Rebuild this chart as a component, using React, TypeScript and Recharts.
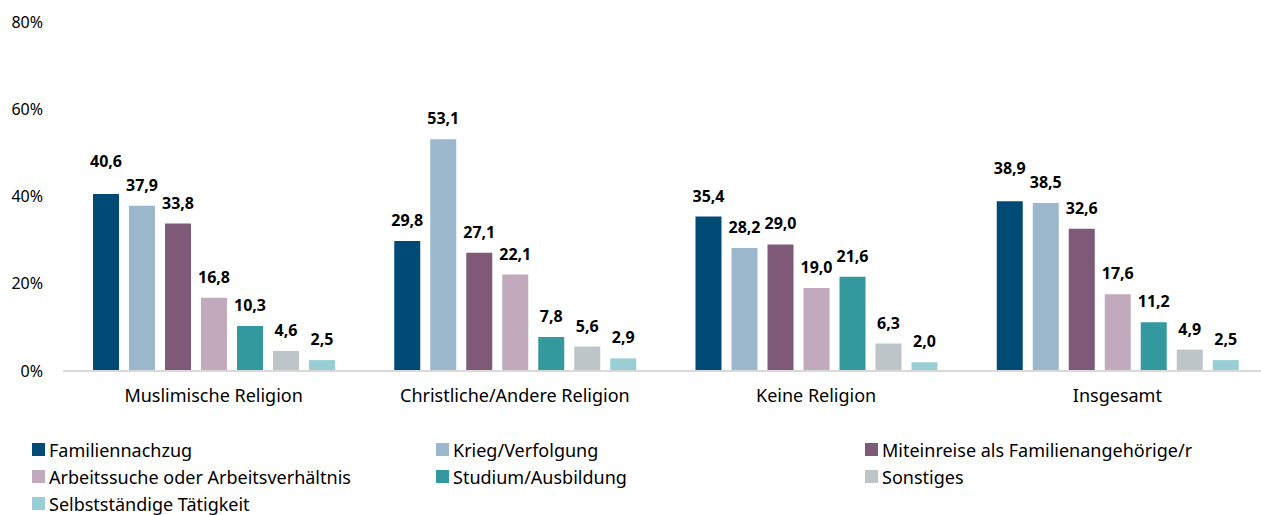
import { BarChart, Bar, XAxis, YAxis, Legend, LabelList } from "recharts";

const categories = [
  "Muslimische Religion",
  "Christliche/Andere Religion",
  "Keine Religion",
  "Insgesamt",
];

const familiennachzug = [40.6, 29.8, 35.4, 38.9];
const kriegVerfolgung = [37.9, 53.1, 28.2, 38.5];
const miteinreise = [33.8, 27.1, 29.0, 32.6];
const arbeitssuche = [16.8, 22.1, 19.0, 17.6];
const studium = [10.3, 7.8, 21.6, 11.2];
const sonstiges = [4.6, 5.6, 6.3, 4.9];
const selbststaendig = [2.5, 2.9, 2.0, 2.5];

const yTicks = [0, 20, 40, 60, 80];

const series = [
  { key: "familiennachzug", name: "Familiennachzug", color: "#004B76", values: familiennachzug },
  { key: "krieg", name: "Krieg/Verfolgung", color: "#9BB7CB", values: kriegVerfolgung },
  { key: "miteinreise", name: "Miteinreise als Familienangehörige/r", color: "#7E5A78", values: miteinreise },
  { key: "arbeit", name: "Arbeitssuche oder Arbeitsverhältnis", color: "#C0AABB", values: arbeitssuche },
  { key: "studium", name: "Studium/Ausbildung", color: "#33999F", values: studium },
  { key: "sonstiges", name: "Sonstiges", color: "#BEC5C9", values: sonstiges },
  { key: "selbst", name: "Selbstständige Tätigkeit", color: "#99CED4", values: selbststaendig },
];

const data = categories.map((cat, i) => {
  const row: Record<string, string | number> = { cat };
  series.forEach(s => { row[s.key] = s.values[i]; });
  return row;
});

const FONT = "'Noto Sans', sans-serif";
const colWidths = [404, 429, 380];

const fmt = (v: number) => v.toFixed(1).replace(".", ",");

// wide labels get lifted when the next bar is nearly as tall, so they don't collide
function makeLabel(si: number) {
  return (props: any) => {
    const { x, y, width, value, index } = props;
    const next = series[si + 1]?.values[index];
    const lift = next !== undefined && value >= 10 && value >= next && value - next < 4 ? 12 : 0;
    return (
      <text
        x={Number(x) + Number(width) / 2}
        y={Number(y) - 15 - lift}
        textAnchor="middle"
        style={{ fontSize: 16, fontWeight: "bold", fill: "#000", fontFamily: FONT }}
      >
        {fmt(Number(value))}
      </text>
    );
  };
}

function LegendGrid() {
  return (
    <div style={{ display: "grid", gridTemplateColumns: colWidths.map(w => w + "px").join(" "), fontFamily: FONT, fontSize: 18, color: "#000" }}>
      {series.map(s => (
        <div key={s.key} style={{ display: "flex", alignItems: "center", height: 27 }}>
          <span style={{ width: 13, height: 13, background: s.color, marginRight: 4, display: "inline-block" }} />
          <span>{s.name}</span>
        </div>
      ))}
    </div>
  );
}

export default function App() {
  return (
    <div style={{ position: "absolute", left: 0, top: 0, width: 1261, height: 515, overflow: "hidden", background: "#fff" }}>
      <BarChart
        width={1275}
        height={515}
        data={data}
        margin={{ top: 22, right: 7, bottom: 114, left: 0 }}
        barSize={26}
        barGap={10}
      >
        <XAxis
          dataKey="cat"
          tickLine={false}
          axisLine={{ stroke: "#D9D9D9", strokeWidth: 2 }}
          tick={{ fontSize: 18, fill: "#000", fontFamily: FONT }}
          tickMargin={12}
          height={30}
        />
        <YAxis
          domain={[0, 80]}
          ticks={yTicks}
          tickFormatter={(v: number) => `${v}%`}
          tickLine={false}
          axisLine={false}
          tick={{ fontSize: 16, fill: "#000", fontFamily: FONT }}
          tickMargin={14}
          width={63}
        />
        <Legend
          verticalAlign="middle"
          align="center"
          layout="horizontal"
          wrapperStyle={{ top: 436, left: 32, width: 1220 }}
          content={() => <LegendGrid />}
        />
        {series.map((s, si) => (
          <Bar key={s.key} dataKey={s.key} name={s.name} fill={s.color} isAnimationActive={false}>
            <LabelList dataKey={s.key} content={makeLabel(si)} />
          </Bar>
        ))}
      </BarChart>
    </div>
  );
}
